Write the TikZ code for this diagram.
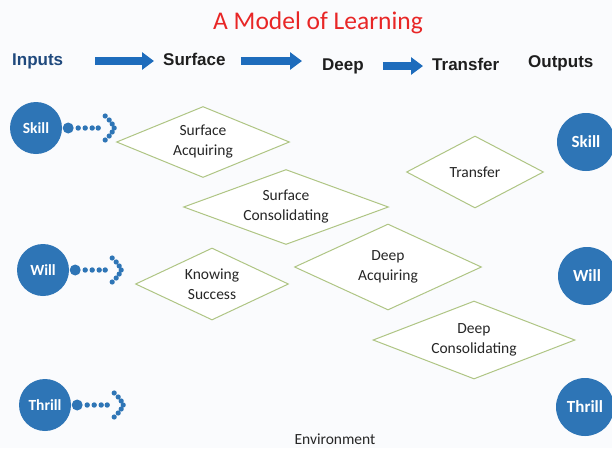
\documentclass[tikz,border=0pt]{standalone}
\usepackage{fontspec}
\setmainfont{Carlito}
\newfontfamily\headfont{Liberation Sans}
\usetikzlibrary{arrows.meta, shapes.geometric}

\definecolor{circblue}{RGB}{46,117,182}
\definecolor{arrowblue}{RGB}{30,108,188}
\definecolor{diagreen}{RGB}{175,197,132}
\definecolor{titlered}{RGB}{232,38,38}
\definecolor{inputnavy}{RGB}{31,73,125}
\definecolor{headgray}{RGB}{30,30,30}
\definecolor{paper}{RGB}{250,251,253}

% row of dots with a dotted chevron, starting at a circle
\newcommand{\dotarrow}[1]{%
  \fill[circblue] ([xshift=6pt]#1.east) circle (5.5pt);
  \foreach \dx in {16,23,30,36}
    \fill[circblue] ([xshift=\dx pt]#1.east) circle (2.7pt);
  \foreach \dx/\dy in {43/12,47/8,50/4,52/0,50/-4,47/-8,43/-12}
    \fill[circblue] ([xshift=\dx pt,yshift=\dy pt]#1.east) circle (2.6pt);
}

\begin{document}
\begin{tikzpicture}[x=1pt, y=-1pt,
    header/.style={anchor=base west, inner sep=0pt, text height=12pt, text depth=4pt,
      font=\headfont\bfseries\fontsize{17}{20}\selectfont, text=headgray},
    headarrow/.style={draw=arrowblue, line width=7.5pt, -{Triangle[length=12pt,width=17pt]}},
    stage/.style={diamond, draw=diagreen, fill=white, line width=1pt, inner sep=0pt,
      aspect=2.6, align=center, text=black!85, font=\fontsize{15.5}{20}\selectfont},
    inblob/.style={circle, fill=circblue, minimum size=52pt, inner sep=0pt, text=white,
      font=\bfseries\fontsize{15.5}{17}\selectfont},
    outblob/.style={inblob, minimum size=58pt, font=\bfseries\fontsize{17}{19}\selectfont}]

  \path[use as bounding box, fill=paper] (0,0) rectangle (612,448);

  \node[anchor=base, text=titlered, font=\fontsize{25.5}{30}\selectfont] (title) at (318,29) {A Model of Learning};

  % stages along the top
  \node[header, text=inputnavy] (inputs) at (12,65) {Inputs};
  \node[header] (surface) at (163,65) {Surface};
  \node[header] (deep) at (322,70) {Deep};
  \node[header] (transfer) at (432,70) {Transfer};
  \node[header] (outputs) at (528,67) {Outputs};

  \draw[headarrow, shorten <=32pt, shorten >=9pt] (inputs.east) -- (surface.west);
  \draw[headarrow, shorten <=15pt, shorten >=20pt] (surface.east) -- (surface.east -| deep.west);
  \draw[headarrow, shorten <=19pt, shorten >=9pt] (deep.east) -- (transfer.west);

  % inputs and outputs
  \node[inblob] (inskill) at (36,128) {Skill};
  \node[inblob] (inwill) at (43,270) {Will};
  \node[inblob] (inthrill) at (45,405) {Thrill};

  \node[outblob] (outskill) at (586,142) {Skill};
  \node[outblob] (outwill) at (587,276) {Will};
  \node[outblob] (outthrill) at (585,407) {Thrill};

  \dotarrow{inskill}
  \dotarrow{inwill}
  \dotarrow{inthrill}

  % phases of learning
  \node[stage, minimum width=173pt, minimum height=71pt] (sacq) at (203,142) {Surface\\Acquiring};
  \node[stage, minimum width=205pt, minimum height=75pt] (scons) at (286,207) {Surface\\Consolidating};
  \node[stage, minimum width=137pt, minimum height=72pt] (trans) at (475,172) {Transfer};
  \node[stage, minimum width=153pt, minimum height=72pt] (know) at (212,284) {Knowing\\Success};
  \node[stage, minimum width=187pt, minimum height=86pt] (dacq) at (388,267) {Deep\\Acquiring};
  \node[stage, minimum width=202pt, minimum height=78pt] (dcons) at (474,340) {Deep\\Consolidating};

  \node[anchor=base, text=black!85, font=\fontsize{15.5}{18}\selectfont] (env) at (335,444) {Environment};
\end{tikzpicture}
\end{document}
